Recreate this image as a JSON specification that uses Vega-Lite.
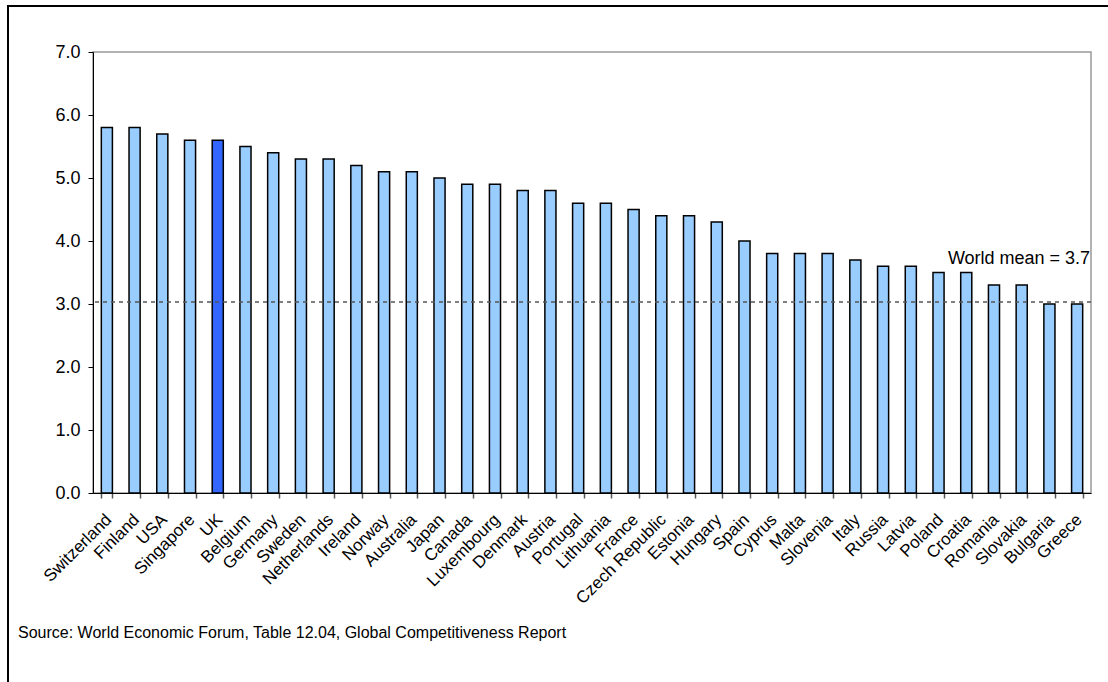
{
  "$schema": "https://vega.github.io/schema/vega-lite/v6.json",
  "autosize": {"type": "none"},
  "width": 998,
  "height": 441,
  "padding": {"left": 93, "top": 52, "right": 17, "bottom": 189},
  "background": "white",
  "config": {
    "font": "Liberation Sans",
    "view": {"stroke": "#999999", "strokeWidth": 1.5},
    "axis": {
      "labelFont": "Liberation Sans",
      "labelFontSize": 17,
      "labelColor": "#000000",
      "domainColor": "#000000",
      "tickColor": "#000000",
      "tickSize": 5,
      "grid": false,
      "title": null
    }
  },
  "datasets": {
    "scores": [
      {"country": "Switzerland", "score": 5.8, "group": "other"},
      {"country": "Finland", "score": 5.8, "group": "other"},
      {"country": "USA", "score": 5.7, "group": "other"},
      {"country": "Singapore", "score": 5.6, "group": "other"},
      {"country": "UK", "score": 5.6, "group": "UK"},
      {"country": "Belgium", "score": 5.5, "group": "other"},
      {"country": "Germany", "score": 5.4, "group": "other"},
      {"country": "Sweden", "score": 5.3, "group": "other"},
      {"country": "Netherlands", "score": 5.3, "group": "other"},
      {"country": "Ireland", "score": 5.2, "group": "other"},
      {"country": "Norway", "score": 5.1, "group": "other"},
      {"country": "Australia", "score": 5.1, "group": "other"},
      {"country": "Japan", "score": 5.0, "group": "other"},
      {"country": "Canada", "score": 4.9, "group": "other"},
      {"country": "Luxembourg", "score": 4.9, "group": "other"},
      {"country": "Denmark", "score": 4.8, "group": "other"},
      {"country": "Austria", "score": 4.8, "group": "other"},
      {"country": "Portugal", "score": 4.6, "group": "other"},
      {"country": "Lithuania", "score": 4.6, "group": "other"},
      {"country": "France", "score": 4.5, "group": "other"},
      {"country": "Czech Republic", "score": 4.4, "group": "other"},
      {"country": "Estonia", "score": 4.4, "group": "other"},
      {"country": "Hungary", "score": 4.3, "group": "other"},
      {"country": "Spain", "score": 4.0, "group": "other"},
      {"country": "Cyprus", "score": 3.8, "group": "other"},
      {"country": "Malta", "score": 3.8, "group": "other"},
      {"country": "Slovenia", "score": 3.8, "group": "other"},
      {"country": "Italy", "score": 3.7, "group": "other"},
      {"country": "Russia", "score": 3.6, "group": "other"},
      {"country": "Latvia", "score": 3.6, "group": "other"},
      {"country": "Poland", "score": 3.5, "group": "other"},
      {"country": "Croatia", "score": 3.5, "group": "other"},
      {"country": "Romania", "score": 3.3, "group": "other"},
      {"country": "Slovakia", "score": 3.3, "group": "other"},
      {"country": "Bulgaria", "score": 3.0, "group": "other"},
      {"country": "Greece", "score": 3.0, "group": "other"}
    ],
    "meanLine": [
      {"level": 3.03, "label": "World mean = 3.7", "anchor": "Greece"}
    ]
  },
  "layer": [
    {
      "data": {"values": [{}]},
      "mark": {"type": "rect", "fill": null, "stroke": "#000000", "strokeWidth": 2},
      "encoding": {
        "x": {"value": -85},
        "x2": {"value": 1200},
        "y": {"value": -46},
        "y2": {"value": 640}
      }
    },
    {
      "data": {"name": "scores"},
      "mark": {"type": "bar", "stroke": "#000000", "strokeWidth": 1.5},
      "encoding": {
        "x": {
          "field": "country",
          "type": "nominal",
          "sort": null,
          "scale": {"paddingInner": 0.6, "paddingOuter": 0.3},
          "axis": {
            "labelAngle": -45,
            "tickBand": "extent",
            "tickColor": "#555555",
            "tickWidth": 1.5,
            "labelPadding": 13,
            "labelOffset": -4
          }
        },
        "y": {
          "field": "score",
          "type": "quantitative",
          "scale": {"domain": [0, 7], "nice": false},
          "axis": {"values": [0, 1, 2, 3, 4, 5, 6, 7], "format": ".1f", "labelPadding": 8, "labelFontSize": 18}
        },
        "color": {
          "field": "group",
          "type": "nominal",
          "scale": {"domain": ["other", "UK"], "range": ["#99CCFF", "#3366FF"]},
          "legend": null
        }
      }
    },
    {
      "data": {"name": "meanLine"},
      "mark": {"type": "rule", "stroke": "#555555", "strokeWidth": 1.5, "strokeDash": [4, 4]},
      "encoding": {
        "y": {"field": "level", "type": "quantitative"}
      }
    },
    {
      "data": {"name": "meanLine"},
      "mark": {"type": "text", "align": "right", "baseline": "alphabetic", "dx": 13, "dy": -38, "fontSize": 18, "font": "Liberation Sans", "color": "#000000"},
      "encoding": {
        "x": {"field": "anchor", "type": "nominal", "sort": null},
        "y": {"field": "level", "type": "quantitative"},
        "text": {"field": "label"}
      }
    }
  ],
  "title": {
    "text": "Source: World Economic Forum, Table 12.04, Global Competitiveness Report",
    "orient": "bottom",
    "anchor": "start",
    "frame": "group",
    "dx": -75,
    "offset": -68,
    "fontSize": 16,
    "fontWeight": "normal",
    "font": "Liberation Sans",
    "color": "#000000"
  }
}
